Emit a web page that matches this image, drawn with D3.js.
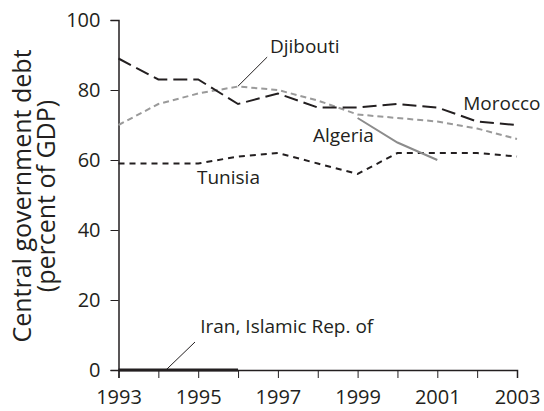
<!DOCTYPE html>
<html>
<head>
<meta charset="utf-8">
<script src="https://cdn.jsdelivr.net/npm/d3@7"></script>
<style>
  body { margin: 0; background: #fff; }
  svg { display: block; }
  text { font-family: "Open Sans", sans-serif; fill: #231f20; }
</style>
</head>
<body>
<svg id="chart" width="544" height="411"></svg>
<script>
// years on the x axis
const years = [1993, 1994, 1995, 1996, 1997, 1998, 1999, 2000, 2001, 2002, 2003];
const xTickLabels = [1993, 1995, 1997, 1999, 2001, 2003];
const yTicks = [0, 20, 40, 60, 80, 100];

// debt, percent of GDP
const morocco  = [89, 83, 83, 76, 79, 75, 75, 76, 75, 71, 70];
const djibouti = [70, 76, 79, 81, 80, 77, 73, 72, 71, 69, 66];
const tunisia  = [59, 59, 59, 61, 62, 59, 56, 62, 62, 62, 61];
const algeriaYears = [1999, 2000, 2001];
const algeria  = [72, 65, 60];
const iranYears = [1993, 1994, 1995, 1996];
const iran     = [0, 0, 0, 0];

// series label positions, in data units
const labels = [
  { text: "Djibouti", x: 1996.8, y: 90.6 },
  { text: "Morocco", x: 2001.65, y: 74.3 },
  { text: "Algeria", x: 1997.88, y: 65.1 },
  { text: "Tunisia", x: 1994.97, y: 53.1 },
  { text: "Iran, Islamic Rep. of", x: 1995.05, y: 10.6 }
];
const leaders = [
  [[1996.73, 89.4], [1996.0, 81.1]],
  [[1994.92, 8], [1994.19, 0]]
];

const svg = d3.select("#chart");
const mLeft = 118.5, mRight = 517, mTop = 20, mBottom = 370;

const x = d3.scaleLinear().domain([1993, 2003]).range([mLeft, mRight]);
const y = d3.scaleLinear().domain([0, 100]).range([mBottom, mTop]);

const line = d3.line().x(d => x(d[0])).y(d => y(d[1]));
const pairs = (xs, vs) => xs.map((v, i) => [v, vs[i]]);

// y axis
const yAxis = svg.append("g")
  .attr("transform", `translate(${mLeft},0)`)
  .call(d3.axisLeft(y).tickValues(yTicks).tickSize(8).tickPadding(10).tickFormat(d3.format("d")));
yAxis.select(".domain").attr("stroke", "#231f20").attr("stroke-width", 1.5);
yAxis.selectAll(".tick line").attr("stroke", "#231f20");
yAxis.selectAll("text").style("font-size", "20px").attr("fill", "#231f20");

// x axis
const xAxis = svg.append("g")
  .attr("transform", `translate(0,${mBottom})`)
  .call(d3.axisBottom(x).tickValues(years).tickSize(8).tickPadding(12)
    .tickFormat(d => xTickLabels.includes(d) ? d : ""));
xAxis.select(".domain").attr("stroke", "#231f20").attr("stroke-width", 1.5);
xAxis.selectAll(".tick line").attr("stroke", "#231f20");
xAxis.selectAll("text").style("font-size", "20px").attr("fill", "#231f20");

// axis title
const title = svg.append("text")
  .attr("transform", "translate(31,196) rotate(-90)")
  .attr("text-anchor", "middle")
  .style("font-size", "25px");
title.append("tspan").attr("x", 0).attr("dy", 0).text("Central government debt");
title.append("tspan").attr("x", 0).attr("dy", "24px").text("(percent of GDP)");

// series
svg.append("path").attr("d", line(pairs(years, djibouti)))
  .attr("fill", "none").attr("stroke", "#9a9a9a").attr("stroke-width", 2)
  .attr("stroke-dasharray", "6,4");
svg.append("path").attr("d", line(pairs(years, morocco)))
  .attr("fill", "none").attr("stroke", "#231f20").attr("stroke-width", 2)
  .attr("stroke-dasharray", "14,6");
svg.append("path").attr("d", line(pairs(years, tunisia)))
  .attr("fill", "none").attr("stroke", "#231f20").attr("stroke-width", 2)
  .attr("stroke-dasharray", "6,5");
svg.append("path").attr("d", line(pairs(algeriaYears, algeria)))
  .attr("fill", "none").attr("stroke", "#8c8c8c").attr("stroke-width", 2);
svg.append("path").attr("d", line(pairs(iranYears, iran)))
  .attr("fill", "none").attr("stroke", "#231f20").attr("stroke-width", 3);

// leader lines
leaders.forEach(l => {
  svg.append("path").attr("d", line(l))
    .attr("fill", "none").attr("stroke", "#231f20").attr("stroke-width", 1);
});

// labels
svg.selectAll(".label")
  .data(labels)
  .enter()
  .append("text")
  .attr("class", "label")
  .attr("x", d => x(d.x))
  .attr("y", d => y(d.y))
  .style("font-size", "19px")
  .text(d => d.text);
</script>
</body>
</html>
